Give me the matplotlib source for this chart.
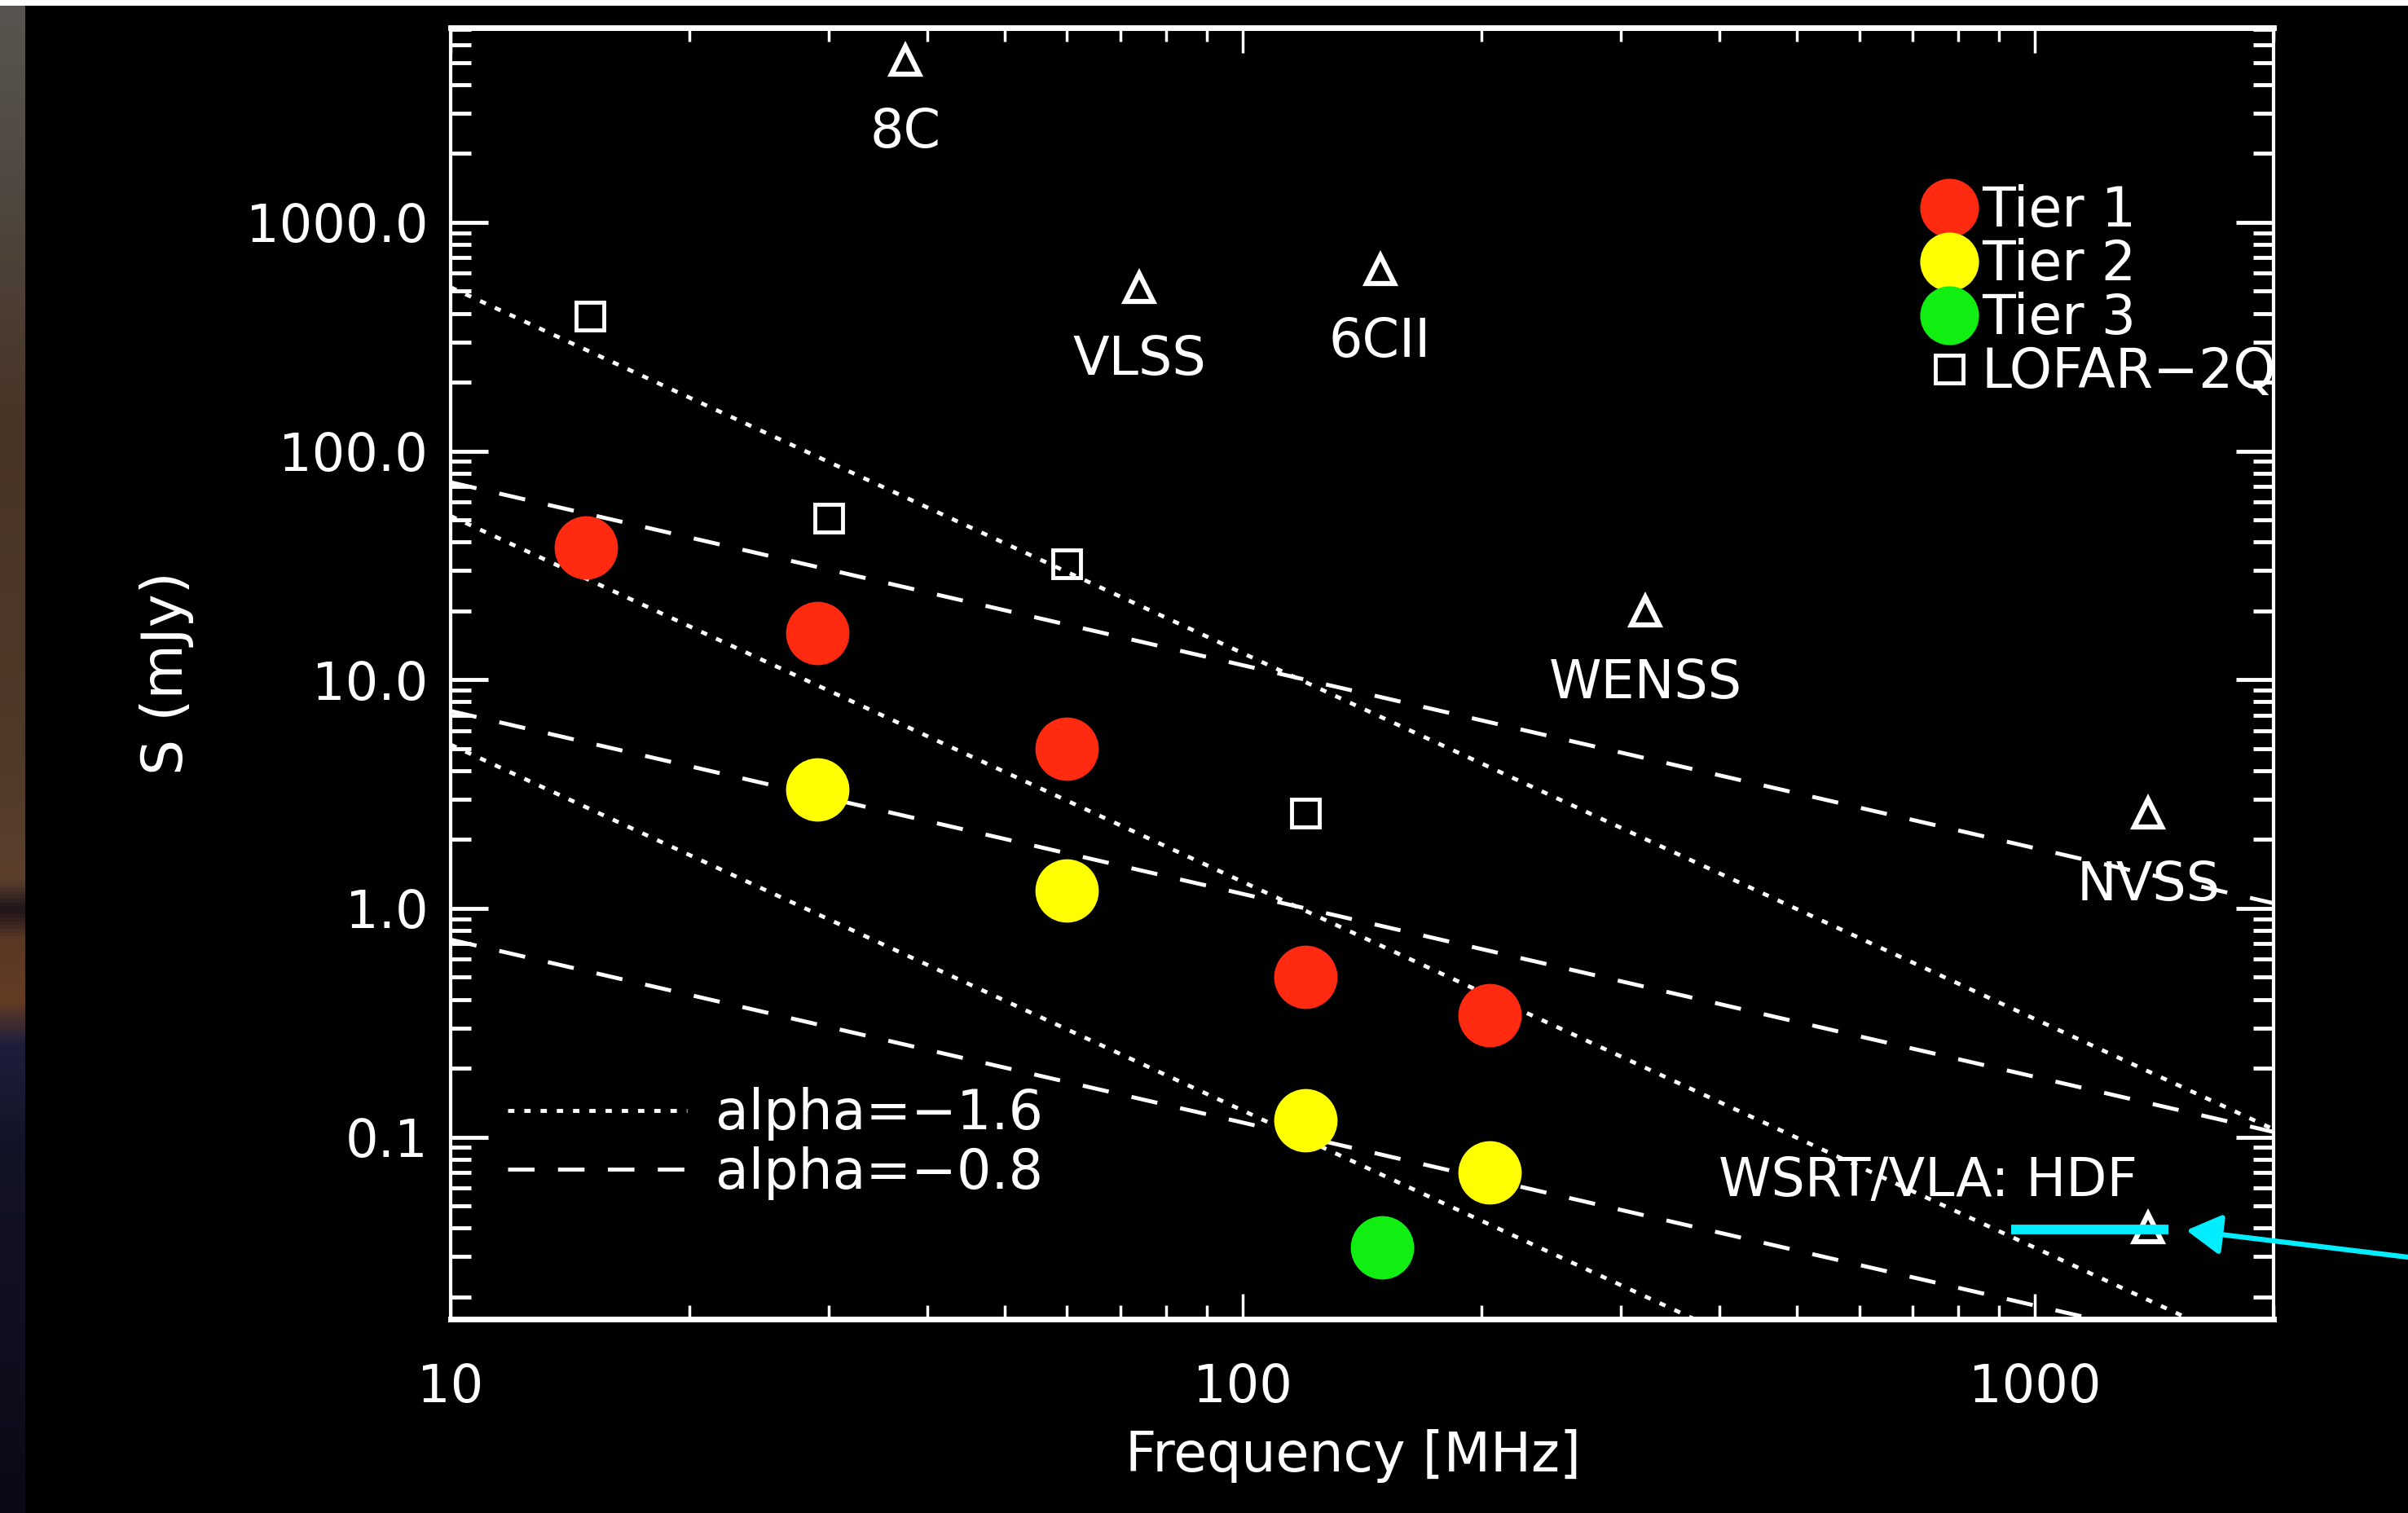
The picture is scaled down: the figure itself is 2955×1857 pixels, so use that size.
import numpy as np
import matplotlib
matplotlib.use("Agg")
import matplotlib.pyplot as plt
from matplotlib.lines import Line2D
from matplotlib.patches import Rectangle
from matplotlib.ticker import FixedLocator, FuncFormatter

W, H = 2955, 1857          # output size in pixels (dpi 100)

# LOFAR survey tiers: frequency (MHz), flux limit (mJy)
tier1_freq = [14.8, 29, 60, 120, 205]
tier1_flux = [38, 16, 5.0, 0.50, 0.34]
tier2_freq = [29, 60, 120, 205]
tier2_flux = [3.3, 1.2, 0.118, 0.070]
tier3_freq = [150]
tier3_flux = [0.033]
lofar2q_freq = [15, 30, 60, 120]
lofar2q_flux = [390, 51, 32, 2.6]

# existing surveys
survey_names = ["8C", "VLSS", "6CII", "WENSS", "NVSS", "WSRT/VLA: HDF"]
survey_freq = [37.5, 74, 149, 322, 1390, 1390]
survey_flux = [5100, 520, 620, 20, 2.6, 0.04]

# power-law reference lines S = S10 * (nu / 10 MHz)**alpha
alpha_steep = -1.6
steep_s10 = [520, 52, 5.2]
alpha_flat = -0.8
flat_s10 = [73, 7.3, 0.73]
line_freq = np.array([10.0, 2000.0])

RED = "#ff2a10"
YELLOW = "#ffff00"
GREEN = "#11ee11"
CYAN = "#00eeff"

plt.rcParams["font.family"] = ["DejaVu Sans"]
plt.rcParams["text.color"] = "white"
plt.rcParams["axes.labelcolor"] = "white"

fig = plt.figure(figsize=(W / 100, H / 100), dpi=100, facecolor="black")

# bits of the slide around the plot
fig.add_artist(Rectangle((0, 1 - 7 / H), 1, 7 / H, transform=fig.transFigure,
                         facecolor="white", edgecolor="none"))
strip = fig.add_axes([0, 0, 31 / W, 1 - 7 / H])
strip.axis("off")
stops = [0.0, 0.12, 0.28, 0.5, 0.58, 0.60, 0.62, 0.66, 0.69, 0.75, 1.0]
cols = np.array([(88, 85, 80), (80, 72, 64), (72, 52, 38), (80, 58, 42),
                 (92, 64, 45), (30, 20, 28), (90, 56, 36), (100, 60, 35),
                 (30, 30, 60), (20, 20, 40), (10, 10, 22)]) / 255
yy = np.linspace(0, 1, 400)
grad = np.stack([np.interp(yy, stops, cols[:, k]) for k in range(3)], axis=-1)
strip.imshow(grad[:, None, :], aspect="auto", extent=(0, 1, 1, 0))

ax = fig.add_axes([553 / W, 1 - 1619 / H, 2237 / W, 1585 / H])
ax.set_facecolor("black")
ax.set_xscale("log")
ax.set_yscale("log")
ax.set_xlim(10, 2000)
ax.set_ylim(0.016, 7100)

lw = 3.5
dot_style = (0, (1.6, 2.5))
dash_style = (0, (6.7, 5.9))
for s10 in steep_s10:
    ax.plot(line_freq, s10 * (line_freq / 10) ** alpha_steep, color="white",
            lw=lw, ls=dot_style, zorder=1)
for s10 in flat_s10:
    ax.plot(line_freq, s10 * (line_freq / 10) ** alpha_flat, color="white",
            lw=lw, ls=dash_style, zorder=1)

ax.plot(tier1_freq, tier1_flux, ls="none", marker="o", ms=56, mfc=RED, mec="none", zorder=3)
ax.plot(tier2_freq, tier2_flux, ls="none", marker="o", ms=56, mfc=YELLOW, mec="none", zorder=3)
ax.plot(tier3_freq, tier3_flux, ls="none", marker="o", ms=56, mfc=GREEN, mec="none", zorder=3)
ax.plot(lofar2q_freq, lofar2q_flux, ls="none", marker="s", ms=24, mfc="none",
        mec="white", mew=3.5, zorder=3)
ax.plot(survey_freq, survey_flux, ls="none", marker="^", ms=25, mfc="none",
        mec="white", mew=4.5, zorder=3)

label_offset = {"WSRT/VLA: HDF": (-195, 41)}
for name, f, s in zip(survey_names, survey_freq, survey_flux):
    ax.annotate(name, (f, s), xytext=label_offset.get(name, (0, -64)),
                textcoords="offset points", ha="center", va="center",
                fontsize=47, color="white")

# axes styling (IDL-like)
for side in ["left", "right"]:
    ax.spines[side].set_linewidth(3)
for side in ["top", "bottom"]:
    ax.spines[side].set_linewidth(5)
for sp in ax.spines.values():
    sp.set_color("white")
ax.tick_params(which="both", direction="in", top=True, right=True, colors="white")
ax.tick_params(axis="x", which="major", length=22, width=2.5, labelsize=46, pad=38)
ax.tick_params(axis="x", which="minor", length=12, width=2.5)
ax.tick_params(axis="y", which="major", length=33, width=3.5, labelsize=46, pad=20)
ax.tick_params(axis="y", which="minor", length=18, width=3.5)
ax.xaxis.set_major_locator(FixedLocator([10, 100, 1000]))
ax.xaxis.set_major_formatter(FuncFormatter(lambda v, p: f"{v:.0f}"))
ax.yaxis.set_major_locator(FixedLocator([0.1, 1, 10, 100, 1000]))
ax.yaxis.set_major_formatter(FuncFormatter(lambda v, p: f"{v:.1f}"))

ax.set_xlabel("Frequency [MHz]", fontsize=48)
ax.xaxis.set_label_coords(0.495, -0.106)
ax.xaxis.label.set_va("center")
ax.set_ylabel("S (mJy)", fontsize=50)
ax.yaxis.set_label_coords(-0.1556, 0.5)
ax.yaxis.label.set_va("center")

# legends
tier_handles = [
    Line2D([], [], ls="none", marker="o", ms=52, mfc=RED, mec="none", label="Tier 1"),
    Line2D([], [], ls="none", marker="o", ms=52, mfc=YELLOW, mec="none", label="Tier 2"),
    Line2D([], [], ls="none", marker="o", ms=52, mfc=GREEN, mec="none", label="Tier 3"),
    Line2D([], [], ls="none", marker="s", ms=24, mfc="none", mec="white", mew=3.5,
           label="LOFAR\u22122Q"),
]
leg1 = ax.legend(handles=tier_handles, loc="upper left",
                 bbox_to_anchor=(2372 / W, 1 - 226 / H), bbox_transform=fig.transFigure,
                 frameon=False, fontsize=48, handlelength=0.6, handletextpad=0.3,
                 labelspacing=0.0, borderpad=0, borderaxespad=0, labelcolor="white")
ax.add_artist(leg1)

alpha_handles = [
    Line2D([], [], color="white", lw=lw, ls=dot_style, label="alpha=\u22121.6"),
    Line2D([], [], color="white", lw=lw, ls=dash_style, label="alpha=\u22120.8"),
]
ax.legend(handles=alpha_handles, loc="upper left",
          bbox_to_anchor=(623 / W, 1 - 1334 / H), bbox_transform=fig.transFigure,
          frameon=False, fontsize=48, handlelength=3.3, handletextpad=0.52,
          labelspacing=0.1, borderpad=0, borderaxespad=0, labelcolor="white")

# cyan pointer added on the slide
fig.add_artist(Line2D([2468 / W, 2661 / W], [1 - 1509 / H, 1 - 1509 / H],
                      transform=fig.transFigure, color=CYAN, lw=8.5,
                      solid_capstyle="butt"))
ax.annotate("", xy=(2683, H - 1510), xycoords="figure pixels",
            xytext=(2955, H - 1543), textcoords="figure pixels",
            arrowprops=dict(arrowstyle="-|>,head_length=1.3,head_width=0.75",
                            mutation_scale=20, color=CYAN, lw=4.5,
                            shrinkA=0, shrinkB=0),
            annotation_clip=False)

fig.savefig("out.png", dpi=100, facecolor="black")
